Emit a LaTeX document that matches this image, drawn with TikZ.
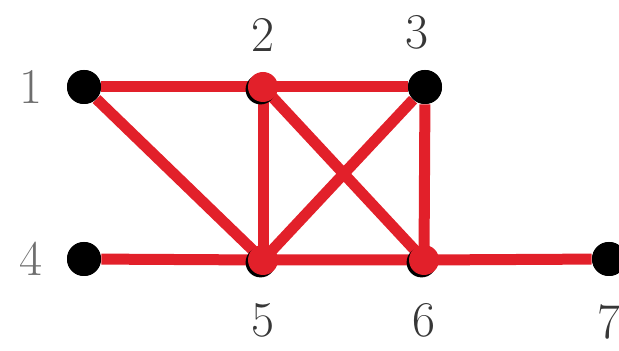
\documentclass[tikz,border=0pt]{standalone}
\usetikzlibrary{positioning}
\definecolor{edgered}{RGB}{226, 32, 42}
\definecolor{ink}{RGB}{55, 55, 55}
\definecolor{inkfaint}{RGB}{110, 110, 110}

\begin{document}
\begin{tikzpicture}[
    x=0.5pt, y=-0.5pt,
    vertex/.style = {circle, fill=black, inner sep=0pt, minimum size=17pt},
    hit/.style    = {vertex, fill=edgered, minimum size=15pt,
                     preaction={fill=black, transform canvas={shift={(-1.2pt,-1.2pt)}}}},
    lbl/.style    = {font=\fontsize{25}{30}\selectfont\color{ink}, inner sep=0pt},
    lblfaint/.style = {lbl, color=inkfaint},
    edge/.style   = {draw=edgered, line width=5.5pt},
  ]
    \clip (0,0) rectangle (619,351);
    \useasboundingbox (0,0) rectangle (619,351);

    % ── vertices ──
    \node[vertex] (v1) at (84, 87)  {};
    \node[vertex] (v3) at (425, 87) {};
    \node[vertex] (v4) at (84, 259) {};
    \node[vertex] (v7) at (609, 259) {};
    \coordinate (c2) at (263, 87);
    \coordinate (c5) at (263, 260);
    \coordinate (c6) at (424, 260);

    % ── edges ──
    \draw[edge] (v1) -- (c2) -- (v3);
    \draw[edge] (v1) -- (c5);
    \draw[edge] (c2) -- (c5);
    \draw[edge] (c2) -- (c6);
    \draw[edge] (v3) -- (c5);
    \draw[edge] (v3) -- (c6);
    \draw[edge] (v4) -- (c5) -- (c6) -- (v7);

    % ── vertices on top ──
    \node[hit] (v2) at (c2) {};
    \node[hit] (v5) at (c5) {};
    \node[hit] (v6) at (c6) {};
    \node[vertex] at (v1) {};
    \node[vertex] at (v3) {};
    \node[vertex] at (v4) {};
    \node[vertex] at (v7) {};

    % ── labels ──
    \node[lblfaint, left=12pt of v1]   (l1) {1};
    \node[lbl, above=10pt of v2]       (l2) {2};
    \node[lbl, above=10pt of v3, xshift=-4pt] (l3) {3};
    \node[lblfaint, left=12pt of v4]   (l4) {4};
    \node[lbl, below=14pt of v5]       (l5) {5};
    \node[lbl, below=14pt of v6]       (l6) {6};
    \node[lbl, below=14pt of v7]       (l7) {7};
\end{tikzpicture}
\end{document}
